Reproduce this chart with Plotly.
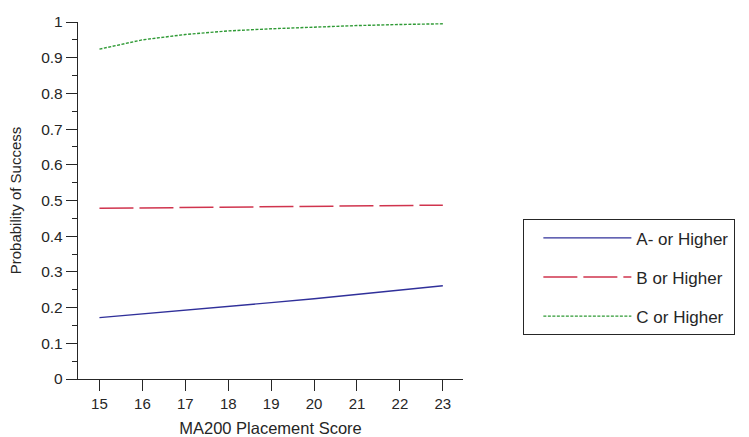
import plotly.graph_objects as go

# Placement score on the x axis
scores = [15, 16, 17, 18, 19, 20, 21, 22, 23]

# Predicted probability of reaching each grade threshold
prob_a = [0.172, 0.182, 0.192, 0.203, 0.214, 0.225, 0.237, 0.249, 0.261]
prob_b = [0.478, 0.479, 0.480, 0.481, 0.482, 0.483, 0.484, 0.486, 0.487]
prob_c = [0.924, 0.950, 0.965, 0.975, 0.981, 0.986, 0.990, 0.993, 0.995]

series_names = ["A- or Higher", "B or Higher", "C or Higher"]
series_values = [prob_a, prob_b, prob_c]
series_styles = [
    dict(color="#30309a", dash="solid", width=1.4),
    dict(color="#d0344e", dash="34px,6px", width=1.5),
    dict(color="#2f9a35", dash="3px,1.5px", width=1.4),
]

font_family = "Liberation Sans, Arial, sans-serif"
ink = "#262626"

fig = go.Figure()
for i, (name, vals, style) in enumerate(zip(series_names, series_values, series_styles)):
    fig.add_trace(go.Scatter(
        x=scores, y=vals, mode="lines", name=name,
        line=style, legendgroup=f"g{i}",
    ))

fig.update_layout(
    width=749, height=437,
    margin=dict(l=78, r=286, t=22, b=58),
    paper_bgcolor="white", plot_bgcolor="white",
    font=dict(family=font_family, size=15, color=ink),
    showlegend=True,
    legend=dict(
        x=1.156, y=0.448, xanchor="left", yanchor="top",
        bordercolor=ink, borderwidth=1.3,
        font=dict(size=17, color=ink),
        tracegroupgap=14, itemwidth=88, indentation=14,
        entrywidth=210, entrywidthmode="pixels",
        traceorder="grouped",
    ),
    xaxis=dict(
        range=[14.5, 23.47], tickmode="array", tickvals=scores,
        showgrid=False, zeroline=False, automargin=False,
        showline=True, linecolor=ink, linewidth=1.4,
        ticks="outside", ticklen=11, tickcolor=ink, tickwidth=1.4,
        tickfont=dict(size=15),
        title=dict(text="MA200 Placement Score", font=dict(size=16.5)),
    ),
    yaxis=dict(
        range=[0, 1], dtick=0.1, tick0=0,
        showgrid=False, zeroline=False, automargin=False,
        showline=True, linecolor=ink, linewidth=1.4,
        ticks="outside", ticklen=11, tickcolor=ink, tickwidth=1.4,
        tickfont=dict(size=15.5),
        minor=dict(dtick=0.05, ticks="outside", ticklen=5, tickcolor=ink, tickwidth=1.2),
        title=dict(text="Probability of Success", font=dict(size=15)),
    ),
)

fig.write_html("out.html")
